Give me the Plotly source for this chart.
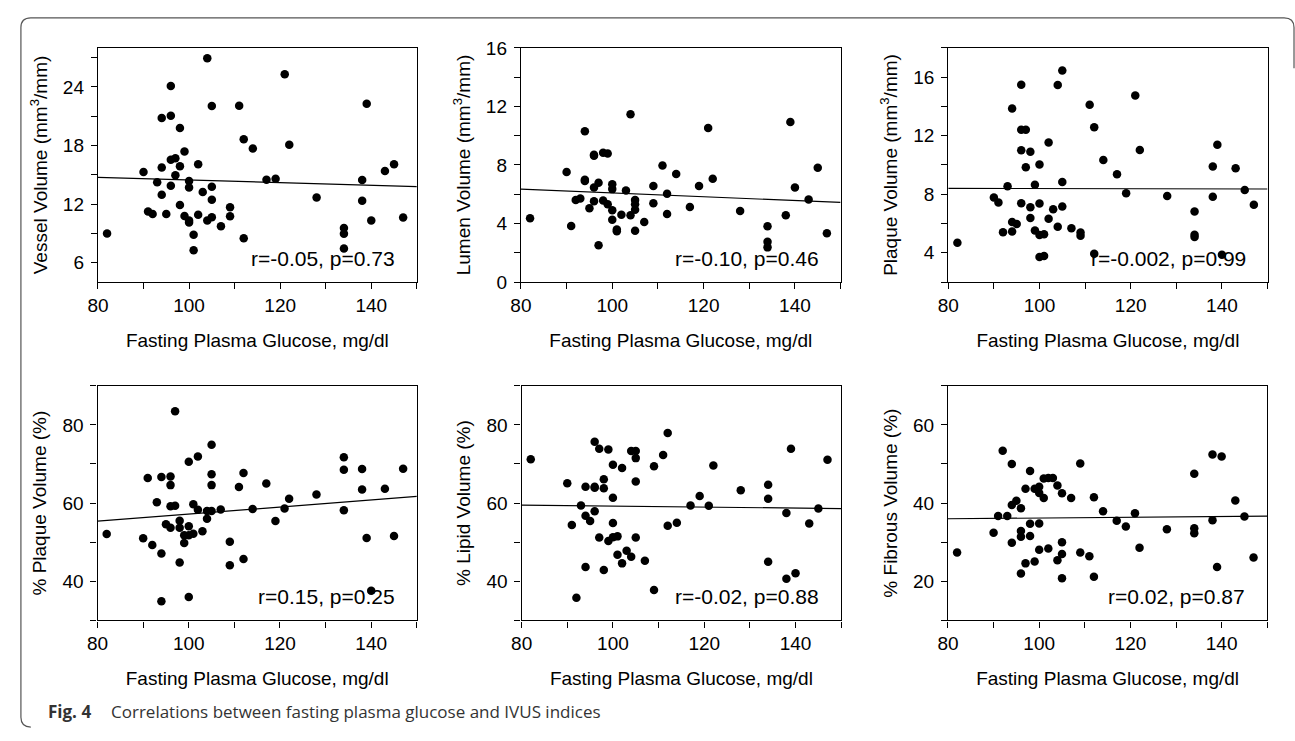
import plotly.graph_objects as go

W, H = 1295, 741

# ---------------- data ----------------
glucose = [82, 90, 91, 92, 93, 94, 94, 94, 95, 96, 96, 96, 96, 97, 97, 98, 98, 98, 99, 99,
           100, 100, 100, 100, 101, 101, 102, 102, 103, 104, 104, 105, 105, 105, 105, 107,
           109, 109, 111, 112, 112, 114, 117, 119, 121, 122, 128, 134, 134, 134, 138, 138,
           139, 140, 143, 145, 147]
glucose_lumen = [82, 90, 91, 92, 93, 94, 94, 94, 95, 96, 96, 96, 96, 97, 97, 98, 98, 99, 99,
                 100, 100, 100, 100, 101, 101, 102, 103, 104, 104, 105, 105, 105, 105, 107,
                 109, 109, 111, 112, 112, 114, 117, 119, 121, 122, 128, 134, 134, 134, 138,
                 139, 140, 143, 145, 147]
glucose_plaque = [82, 90, 91, 92, 93, 94, 94, 94, 95, 96, 96, 96, 96, 97, 97, 98, 98, 98, 99, 99,
                  100, 100, 100, 100, 101, 101, 102, 102, 103, 104, 104, 105, 105, 105, 107,
                  109, 109, 111, 112, 112, 114, 117, 119, 121, 122, 128, 134, 134, 134, 138,
                  138, 139, 140, 143, 145, 147]

vessel = [8.98, 15.28, 11.24, 10.97, 14.22, 20.82, 15.75, 12.96, 10.97, 24.1, 21.05, 16.54, 13.86,
          16.68, 14.95, 19.79, 15.88, 11.90, 17.37, 10.77, 14.35, 13.69, 10.31, 10.11, 8.85, 7.26,
          10.91, 16.08, 13.23, 26.95, 10.31, 22.04, 13.76, 12.43, 10.64, 9.71, 11.67, 10.74, 22.08,
          18.63, 8.49, 17.70, 14.49, 14.59, 25.29, 18.07, 12.66, 9.55, 8.95, 7.43, 14.45, 12.33,
          22.28, 10.31, 15.38, 16.08, 10.61]
lumen = [4.36, 7.52, 3.83, 5.60, 5.71, 10.31, 6.99, 6.9, 5.05, 8.63, 8.7, 6.46, 5.53, 6.79, 2.52,
         8.83, 5.58, 8.79, 5.31, 6.68, 6.35, 4.91, 4.25, 3.59, 3.48, 4.6, 6.26, 11.46, 4.56, 5.60,
         5.31, 4.94, 3.50, 4.10, 6.57, 5.38, 7.97, 6.04, 4.65, 7.39, 5.13, 6.57, 10.53, 7.06, 4.85,
         3.81, 2.75, 2.37, 4.56, 10.93, 6.46, 5.64, 7.81, 3.34]
plaque = [4.68, 7.77, 7.44, 5.41, 8.54, 13.86, 6.11, 5.45, 5.96, 15.49, 12.41, 11.0, 7.39, 12.41,
          9.84, 10.91, 7.11, 6.38, 8.65, 5.52, 10.03, 7.37, 5.21, 3.71, 5.26, 3.78, 11.53, 6.33,
          6.97, 15.47, 5.78, 16.46, 8.84, 7.17, 5.67, 5.39, 5.17, 14.11, 12.57, 3.93, 10.34, 9.37,
          8.07, 14.75, 11.02, 7.88, 6.82, 5.23, 5.08, 9.90, 7.83, 11.38, 3.87, 9.77, 8.29, 7.28]
pct_plaque = [52.1, 51.0, 66.4, 49.3, 60.2, 66.7, 47.1, 34.9, 54.6, 66.8, 64.6, 59.2, 53.7, 83.5,
              59.3, 55.5, 53.7, 44.8, 51.8, 49.8, 70.6, 54.1, 51.8, 36.0, 59.7, 52.2, 71.9, 58.3,
              52.8, 58.0, 56.0, 74.9, 67.4, 64.6, 58.0, 58.4, 50.1, 44.1, 64.1, 67.7, 45.7, 58.5,
              65.0, 55.4, 58.6, 61.1, 62.2, 71.7, 68.5, 58.2, 68.7, 63.5, 51.1, 37.6, 63.7, 51.6,
              68.8]
pct_lipid = [71.2, 65.1, 54.4, 35.8, 59.4, 64.2, 56.8, 43.7, 55.4, 75.7, 64.2, 63.9, 57.9, 73.9,
             51.2, 66.1, 63.8, 42.9, 73.7, 50.3, 69.8, 61.4, 54.9, 51.3, 51.5, 46.8, 69.0, 44.6,
             47.8, 73.3, 46.3, 73.3, 71.5, 65.5, 51.2, 45.3, 69.4, 37.8, 72.3, 77.9, 54.2, 55.0,
             59.4, 61.8, 59.3, 69.6, 63.3, 64.7, 61.1, 45.0, 57.5, 40.7, 73.9, 42.1, 54.8, 58.6,
             71.1]
pct_fibrous = [27.4, 32.4, 36.7, 53.4, 36.7, 50.0, 39.5, 29.9, 40.6, 38.7, 32.9, 31.4, 22.0, 43.7,
               24.6, 48.2, 34.7, 31.6, 43.7, 25.1, 44.2, 42.6, 34.8, 28.1, 46.3, 41.3, 46.4, 28.4,
               46.4, 44.5, 25.4, 42.5, 30.0, 27.0, 20.8, 41.3, 50.1, 27.4, 26.4, 41.5, 21.2, 37.9,
               35.5, 34.0, 37.4, 28.6, 33.3, 47.5, 33.6, 32.3, 52.4, 35.6, 23.7, 51.9, 40.7, 36.6,
               26.1]

fit_x = [80, 150]
fit_vessel = [14.72, 13.79]
fit_lumen = [6.35, 5.44]
fit_plaque = [8.40, 8.36]
fit_pct_plaque = [55.4, 61.7]
fit_pct_lipid = [59.5, 58.6]
fit_pct_fibrous = [36.0, 36.65]

y_titles = ["Vessel Volume (mm<sup>3</sup>/mm)", "Lumen Volume (mm<sup>3</sup>/mm)",
            "Plaque Volume (mm<sup>3</sup>/mm)", "% Plaque Volume (%)",
            "% Lipid Volume (%)", "% Fibrous Volume (%)"]
stats_text = ["r=-0.05, p=0.73", "r=-0.10, p=0.46", "r=-0.002, p=0.99",
              "r=0.15, p=0.25", "r=-0.02, p=0.88", "r=0.02, p=0.87"]
x_title = "Fasting Plasma Glucose, mg/dl"
caption_label = "<b>Fig. 4</b>"
caption_text = "Correlations between fasting plasma glucose and IVUS indices"

# ---------------- layout geometry (pixels) ----------------
panels_px = [  # (left, right, top, bottom)
    (87.7, 409.3, 39, 280), (514.3, 836.7, 39, 280), (945.3, 1267.3, 39, 280),
    (87.3, 409.3, 386.7, 628.3), (515, 837.3, 386.7, 628.3), (945, 1267, 386.7, 628.3),
]
y_ranges = [[4, 28], [0, 16], [2, 18], [30, 90], [30, 90], [10, 70]]
y_dticks = [6, 4, 4, 20, 20, 20]
y_tick0 = [0, 0, 0, 0, 0, 0]

series = [
    (glucose, vessel, fit_vessel),
    (glucose_lumen, lumen, fit_lumen),
    (glucose_plaque, plaque, fit_plaque),
    (glucose, pct_plaque, fit_pct_plaque),
    (glucose, pct_lipid, fit_pct_lipid),
    (glucose, pct_fibrous, fit_pct_fibrous),
]

FONT = "Liberation Sans"
fig = go.Figure()
layout = dict(
    width=W, height=H, margin=dict(l=0, r=0, t=0, b=0),
    paper_bgcolor="white", plot_bgcolor="white", showlegend=False,
    font=dict(family=FONT, size=19, color="black"),
)

for i, ((xs, ys, fy), (l, r, t, b)) in enumerate(zip(series, panels_px)):
    n = i + 1
    xa = "x" if n == 1 else f"x{n}"
    ya = "y" if n == 1 else f"y{n}"
    fig.add_trace(go.Scatter(x=xs, y=ys, mode="markers", xaxis=xa, yaxis=ya,
                             marker=dict(color="black", size=8.5, line=dict(width=0))))
    fig.add_trace(go.Scatter(x=fit_x, y=fy, mode="lines", xaxis=xa, yaxis=ya,
                             line=dict(color="black", width=1.2)))
    axis_common = dict(showgrid=False, zeroline=False, showline=True, linecolor="black",
                       linewidth=1.3, mirror=True, ticks="outside", ticklen=6, tickwidth=1.3,
                       tickcolor="black", tickfont=dict(family=FONT, size=19, color="black"))
    layout["xaxis" if n == 1 else f"xaxis{n}"] = dict(
        axis_common, domain=[l / W, r / W], anchor=ya, range=[80, 150], tick0=80, dtick=20,
        minor=dict(dtick=10, tick0=80, ticks="outside", ticklen=6, tickwidth=1.3,
                   tickcolor="black", showgrid=False),
        title=dict(text=x_title, standoff=18, font=dict(family=FONT, size=19, color="black")))
    layout["yaxis" if n == 1 else f"yaxis{n}"] = dict(
        axis_common, domain=[1 - b / H, 1 - t / H], anchor=xa, range=y_ranges[i],
        tick0=y_tick0[i], dtick=y_dticks[i], ticklabelstandoff=3,
        minor=dict(dtick=y_dticks[i] / 2, tick0=y_tick0[i], ticks="outside", ticklen=6,
                   tickwidth=1.3, tickcolor="black", showgrid=False),
        title=dict(text=y_titles[i], standoff=10, font=dict(family=FONT, size=19, color="black")))

annotations = []
for i in range(6):
    n = i + 1
    xa = "x" if n == 1 else f"x{n}"
    ya = "y" if n == 1 else f"y{n}"
    annotations.append(dict(text=stats_text[i], xref=f"{xa} domain", yref=f"{ya} domain",
                            x=1, y=0, xanchor="right", yanchor="middle", xshift=-20, yshift=24,
                            showarrow=False, font=dict(family=FONT, size=21, color="black")))
annotations.append(dict(text=caption_label, xref="paper", yref="paper", x=35 / W, y=1 - 722 / H,
                        xanchor="left", yanchor="middle", showarrow=False,
                        font=dict(family="Open Sans", size=17, color="#333333")))
annotations.append(dict(text=caption_text, xref="paper", yref="paper", x=99 / W, y=1 - 722 / H,
                        xanchor="left", yanchor="middle", showarrow=False,
                        font=dict(family="Open Sans", size=17, color="#333333")))
layout["annotations"] = annotations

# rounded frame (top/left visible, bottom/right run off the image)
def px(xp, yp):
    return f"{xp / W:.5f},{1 - yp / H:.5f}"

L, T, R, rad = 10, 8, 1294, 10
path = ("M " + px(R, 60) + " L " + px(R, T + rad) + " Q " + px(R, T) + " " + px(R - rad, T) +
        " L " + px(L + rad, T) + " Q " + px(L, T) + " " + px(L, T + rad) +
        " L " + px(L, 728) + " Q " + px(L, 738) + " " + px(L + rad, 738))
layout["shapes"] = [dict(type="path", xref="paper", yref="paper", path=path,
                         line=dict(color="#555555", width=1.2))]

fig.update_layout(**layout)
fig.write_html("out.html", config={"displayModeBar": False},
               post_script="document.documentElement.style.margin='0px';"
                           "document.body.style.margin='0px';"
                           "document.body.style.overflow='hidden';")
